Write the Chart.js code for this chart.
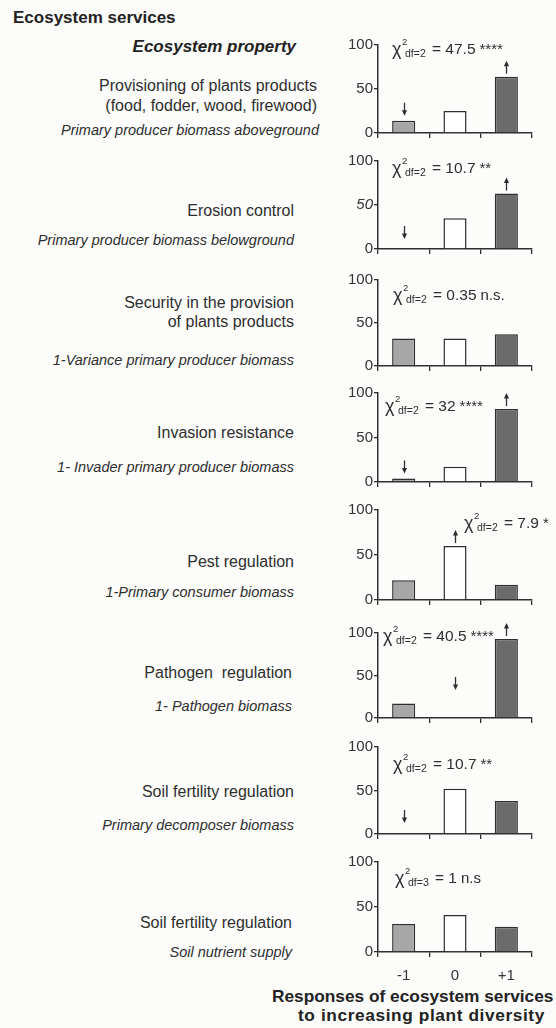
<!DOCTYPE html>
<html>
<head>
<meta charset="utf-8">
<script src="https://cdn.jsdelivr.net/npm/chart.js@4.4.1/dist/chart.umd.min.js"></script>
<style>
  html, body { margin: 0; padding: 0; background: #fcfcfa; }
  #page { position: relative; width: 556px; height: 1028px; overflow: hidden;
          font-family: "Liberation Sans", Arial, sans-serif; color: #2e2e2e; }
  .t { position: absolute; white-space: nowrap; line-height: 1; transform: translateY(-50%); }
  .svc { font-size: 16px; text-align: right; }
  .prop { font-size: 14.5px; font-style: italic; text-align: right; }
  .head { font-size: 17px; font-weight: bold; color: #222; }
  .foot { font-size: 17.3px; font-weight: bold; color: #222; }
  canvas { position: absolute; }
</style>
</head>
<body>
<div id="page"></div>
<script>
// ---- data ------------------------------------------------------------
const categories = ['-1', '0', '+1'];
const yTicks = [0, 50, 100];

const services = [
  ['Provisioning of plants products', '(food, fodder, wood, firewood)'],
  ['Erosion control'],
  ['Security in the provision', 'of plants products'],
  ['Invasion resistance'],
  ['Pest regulation'],
  ['Pathogen\u00a0 regulation'],
  ['Soil fertility regulation'],
  ['Soil fertility regulation']
];
const properties = [
  'Primary producer biomass aboveground',
  'Primary producer biomass belowground',
  '1-Variance primary producer biomass',
  '1- Invader primary producer biomass',
  '1-Primary consumer biomass',
  '1- Pathogen biomass',
  'Primary decomposer biomass',
  'Soil nutrient supply'
];

// percentage of studies per response class
const negative = [14, 0, 32, 4, 22, 17, 0, 31];
const neutral  = [25, 35, 32, 17, 60, 0, 52, 41];
const positive = [64, 63, 37, 82, 17, 93, 38, 28];

// chi-square test per service
const chiDf    = [2, 2, 2, 2, 2, 2, 2, 3];
const chiValue = ['47.5', '10.7', '0.35', '32', '7.9', '40.5', '10.7', '1'];
const chiSig   = ['****', '**', 'n.s.', '****', '*', '****', '**', 'n.s'];

// over/under-represented classes: -1 down, +1 up, 0 none
const shifts = [
  [-1, 0, 1], [-1, 0, 1], [0, 0, 0], [-1, 0, 1],
  [0, 1, 0], [0, -1, 1], [-1, 0, 0], [0, 0, 0]
];

// ---- layout ----------------------------------------------------------
const panelTop  = [45, 161, 280, 393, 510, 633, 747, 862];   // pixel of 100
const panelBase = [136, 252, 369, 485, 603, 721, 837, 952];  // pixel of 0
const chiAt = [[14, 95.5], [14, 92], [15, 83], [7, 85], [86, 86], [5, 96], [15, 81], [17, 82.5]];
const zeroArrowGap = [10, 10, 10, 10, 10, 28, 11, 10];
const labelRight = [317, 294, 294, 294, 294, 292, 294, 292];
const serviceY = [[86, 106], [211], [303, 322], [433], [562], [673], [792], [923]];
const propertyY = [130, 240, 360, 467, 592, 706, 825, 952];

const barColors = ['#a7a7a7', '#ffffff', '#6b6b6b'];
const ink = '#2e2e2e';
const FONT = '"Liberation Sans", Arial, sans-serif';

const page = document.getElementById('page');

function addText(cls, text, style) {
  const d = document.createElement('div');
  d.className = 't ' + cls;
  d.textContent = text;
  Object.assign(d.style, style);
  page.appendChild(d);
  return d;
}

addText('head', 'Ecosystem services', { left: '13px', top: '17px' });
addText('head', 'Ecosystem property', { right: (556 - 296) + 'px', top: '46px', fontStyle: 'italic' });
addText('foot', 'Responses of ecosystem services', { left: '272px', top: '997px' });
addText('foot', 'to increasing plant diversity', { left: '298px', top: '1016px', letterSpacing: '0.6px' });

services.forEach((lines, i) => {
  lines.forEach((line, k) => {
    addText('svc', line, { right: (556 - labelRight[i]) + 'px', top: serviceY[i][k] + 'px' });
  });
  addText('prop', properties[i], { right: (556 - labelRight[i] - (i === 0 ? 2 : 0)) + 'px', top: propertyY[i] + 'px' });
});

// arrows and chi-square statement drawn on top of each panel
const notesPlugin = {
  id: 'notes',
  afterDatasetsDraw(chart, args, opts) {
    const { ctx, chartArea } = chart;
    const xs = chart.scales.x, ys = chart.scales.y;
    const bars = chart.getDatasetMeta(0).data;
    const i = opts.panel;
    ctx.save();
    ctx.strokeStyle = ink;
    ctx.fillStyle = ink;
    ctx.lineWidth = 1.3;
    shifts[i].forEach((dir, c) => {
      if (!dir) return;
      const x = Math.round(xs.getPixelForValue(c)) + 0.5;
      const top = bars[c].y;
      const zero = ys.getPixelForValue(0);
      let tip, tail;
      if (dir > 0) {
        tail = top - 3; tip = tail - 13;
      } else {
        tip = (Math.abs(zero - top) < 1) ? zero - zeroArrowGap[i] : top - 5;
        tail = tip - 13;
      }
      const d = dir > 0 ? 1 : -1;
      ctx.beginPath();
      ctx.moveTo(x, tail);
      ctx.lineTo(x, tip + d * 3);
      ctx.stroke();
      ctx.beginPath();
      ctx.moveTo(x, tip);
      ctx.lineTo(x - 2.6, tip + d * 5.5);
      ctx.lineTo(x + 2.6, tip + d * 5.5);
      ctx.closePath();
      ctx.fill();
    });

    // χ²df=n = value significance
    const x0 = chartArea.left + chiAt[i][0];
    const yb = ys.getPixelForValue(chiAt[i][1]) + 5;
    ctx.textBaseline = 'alphabetic';
    ctx.textAlign = 'left';
    ctx.font = '18px ' + FONT;
    ctx.fillText('\u03c7', x0, yb + 1);
    ctx.font = '9.5px ' + FONT;
    ctx.fillText('2', x0 + 10, yb - 9);
    ctx.font = '10.5px ' + FONT;
    ctx.fillText('df=' + chiDf[i], x0 + 13, yb + 3);
    ctx.font = '15.5px ' + FONT;
    const main = '= ' + chiValue[i];
    ctx.fillText(main, x0 + 40, yb);
    const xs2 = x0 + 40 + ctx.measureText(main).width + 4;
    ctx.font = '15px ' + FONT;
    ctx.fillText(chiSig[i], xs2, yb);
    ctx.restore();
  }
};

const LEFT = 300, WIDTH = 256, AXIS_W = 78, PAD_R = 24, PAD_T = 14;

for (let i = 0; i < 8; i++) {
  const last = i === 7;
  const xAxisH = last ? 30 : 7;
  const h = PAD_T + (panelBase[i] - panelTop[i]) + xAxisH;
  const cv = document.createElement('canvas');
  cv.width = WIDTH; cv.height = h;
  cv.style.left = LEFT + 'px';
  cv.style.top = (panelTop[i] - PAD_T) + 'px';
  page.appendChild(cv);

  new Chart(cv, {
    type: 'bar',
    data: {
      labels: categories,
      datasets: [{
        data: [negative[i], neutral[i], positive[i]],
        backgroundColor: barColors,
        borderColor: ink,
        borderWidth: 1.5,
        barPercentage: 0.45,
        categoryPercentage: 1
      }]
    },
    options: {
      responsive: false,
      animation: false,
      devicePixelRatio: 1,
      events: [],
      layout: { padding: { top: PAD_T, right: PAD_R, left: 0, bottom: 0 } },
      plugins: {
        legend: { display: false },
        tooltip: { enabled: false },
        notes: { panel: i }
      },
      scales: {
        x: {
          offset: true,
          grid: { offset: true, drawOnChartArea: false, tickLength: 5, color: ink, lineWidth: 1.3 },
          border: { color: ink, width: 1.5 },
          ticks: { display: last, color: '#333', padding: 10, font: { family: FONT, size: 15 } },
          afterFit: s => { s.height = xAxisH; }
        },
        y: {
          min: 0, max: 100,
          afterBuildTicks: s => { s.ticks = yTicks.map(v => ({ value: v })); },
          grid: { drawOnChartArea: false, tickLength: 4, color: ink, lineWidth: 1.3 },
          border: { color: ink, width: 1.5 },
          ticks: {
            color: '#333', padding: 1,
            font: c => ({ family: FONT, size: 15,
                          style: (i === 1 && c.tick && c.tick.value === 50) ? 'italic' : 'normal' })
          },
          afterFit: s => { s.width = AXIS_W; }
        }
      }
    },
    plugins: [notesPlugin]
  });
}
</script>
</body>
</html>
